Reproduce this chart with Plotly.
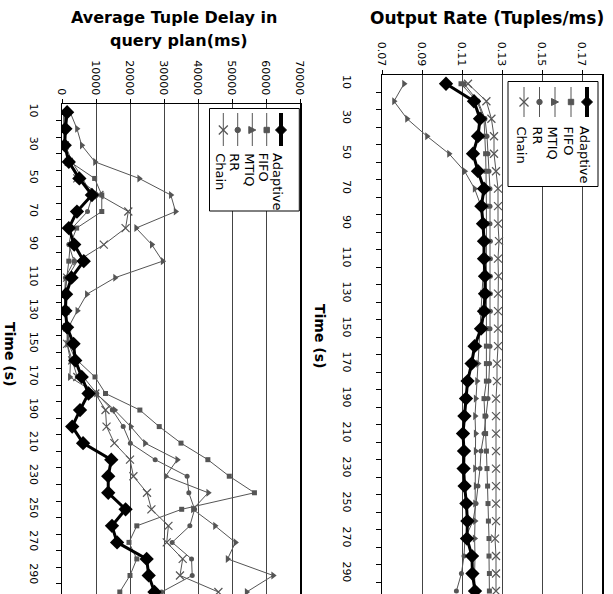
import plotly.graph_objects as go

# ---------------- data ----------------
time_s = [10, 20, 30, 40, 50, 60, 70, 80, 90, 100, 110, 120, 130, 140, 150,
          160, 170, 180, 190, 200, 210, 220, 230, 240, 250, 260, 270, 280, 290, 300]
time_tick_labels = [10, 30, 50, 70, 90, 110, 130, 150, 170, 190, 210, 230, 250, 270, 290]
series_names = ["Adaptive", "FIFO", "MTIQ", "RR", "Chain"]

# Output rate (tuples/ms)
rate_adaptive = [0.102, 0.116, 0.119, 0.118, 0.1155, 0.118, 0.121, 0.1197, 0.1205, 0.121,
                 0.121, 0.1215, 0.1215, 0.121, 0.1195, 0.1163, 0.1148, 0.1128, 0.112, 0.1112,
                 0.1105, 0.111, 0.1108, 0.1113, 0.1122, 0.1127, 0.1125, 0.115, 0.1152, 0.1165]
rate_fifo = [0.1095, 0.1175, 0.121, 0.1215, 0.1218, 0.122, 0.1222, 0.1222, 0.1222, 0.1222,
             0.1222, 0.1222, 0.1222, 0.1222, 0.1222, 0.1222, 0.1222, 0.1222, 0.121, 0.1215,
             0.1218, 0.1222, 0.1225, 0.1228, 0.123, 0.1232, 0.1235, 0.1235, 0.1237, 0.1237]
rate_mtiq = [0.081, 0.076, 0.0825, 0.0925, 0.1035, 0.1113, 0.1163, 0.1195, 0.121, 0.1215,
             0.121, 0.1205, 0.12, 0.1195, 0.119, 0.1185, 0.118, 0.1175, 0.1168, 0.1165,
             0.1168, 0.1168, 0.1165, 0.1168, 0.1165, 0.1165, 0.1163, 0.1165, 0.1163, 0.1165]
rate_rr = [0.111, 0.118, 0.1215, 0.1225, 0.123, 0.1235, 0.124, 0.124, 0.124, 0.1242,
           0.1242, 0.1242, 0.1242, 0.1242, 0.124, 0.124, 0.1238, 0.1235, 0.123, 0.122,
           0.121, 0.1195, 0.119, 0.118, 0.117, 0.1155, 0.1115, 0.111, 0.1097, 0.1072]
rate_chain = [0.113, 0.1222, 0.1247, 0.126, 0.126, 0.127, 0.128, 0.128, 0.128, 0.1285,
              0.128, 0.1282, 0.128, 0.128, 0.128, 0.128, 0.1275, 0.1275, 0.127, 0.127,
              0.127, 0.127, 0.127, 0.127, 0.127, 0.127, 0.1265, 0.127, 0.127, 0.127]

# Average tuple delay in query plan (ms)
delay_adaptive = [1500, 1000, 800, 2000, 5100, 8800, 4400, 2000, 3600, 6400,
                  2800, 1200, 1000, 1500, 3400, 3900, 5800, 7800, 5300, 3000,
                  6200, 14500, 13600, 13600, 18700, 14700, 16200, 24900, 25500, 27200]
delay_fifo = [800, 700, 700, 2400, 9600, 11700, 11700, 4300, 2400, 2000,
              1500, 800, 1200, 1000, 2500, 4500, 9700, 12800, 22900, 28600,
              35000, 42900, 49200, 56600, 35200, 22000, 19700, 22000, 20000, 17000]
delay_mtiq = [2400, 4400, 5800, 9700, 22700, 32000, 33400, 21800, 26400, 29600,
              15600, 7300, 4500, 1900, 1500, 2500, 2300, 10000, 15500, 20200,
              24400, 33900, 30500, 43000, 38500, 45000, 51000, 48700, 62100, 54300]
delay_rr = [600, 800, 1000, 3000, 6000, 9000, 7500, 3000, 2000, 3500,
            1000, 800, 1000, 1500, 2000, 4000, 6300, 10200, 14800, 18000,
            20100, 27400, 36800, 37300, 39000, 37600, 32400, 38100, 38300, 29300]
delay_chain = [500, 500, 800, 2000, 4500, 11000, 19500, 18700, 12300, 4500,
               1500, 800, 1000, 1500, 1500, 3000, 4500, 9800, 12800, 13100,
               15400, 20000, 21000, 25000, 26300, 31300, 30800, 35500, 34700, 46000]

# ---------------- styles ----------------
W, H = 613, 594
GRAY = "#555555"
FONT = "DejaVu Sans"
styles = {
    "Adaptive": dict(color="black", width=3, symbol="diamond", size=11),
    "FIFO": dict(color=GRAY, width=1, symbol="square", size=5),
    "MTIQ": dict(color=GRAY, width=1, symbol="triangle-right", size=7),
    "RR": dict(color=GRAY, width=1, symbol="circle", size=5),
    "Chain": dict(color=GRAY, width=1, symbol="x-thin-open", size=8),
}


def pxx(x):
    return x / W


def pxy(y):
    return 1 - y / H


fig = go.Figure()

rate_series = [rate_adaptive, rate_fifo, rate_mtiq, rate_rr, rate_chain]
delay_series = [delay_adaptive, delay_fifo, delay_mtiq, delay_rr, delay_chain]

# draw gray series first, Adaptive last (on top)
order = [4, 3, 2, 1, 0]
for i in order:
    name = series_names[i]
    st = styles[name]
    mk = dict(symbol=st["symbol"], size=st["size"], color=st["color"])
    if st["symbol"] == "x-thin-open":
        mk["line"] = dict(color=st["color"], width=1.2)
    fig.add_trace(go.Scatter(x=delay_series[i], y=time_s, mode="lines+markers",
                             name=name, line=dict(color=st["color"], width=st["width"]),
                             marker=mk, xaxis="x", yaxis="y", showlegend=False,
                             cliponaxis=True))
    fig.add_trace(go.Scatter(x=rate_series[i], y=time_s, mode="lines+markers",
                             name=name, line=dict(color=st["color"], width=st["width"]),
                             marker=mk, xaxis="x2", yaxis="y2", showlegend=False,
                             cliponaxis=True))

tickfont = dict(family=FONT, size=11, color="black")
minor_vals = [t + 5 for t in time_s]


def time_axis(domain_top, rng, anchor, standoff):
    return dict(domain=[0, domain_top], range=rng, anchor=anchor,
                tickmode="array", tickvals=time_tick_labels,
                ticktext=[str(v) for v in time_tick_labels],
                tickangle=90, ticks="", tickfont=tickfont,
                ticklabelstandoff=standoff,
                showline=True, linecolor="black", linewidth=1.5, mirror=True,
                showgrid=False, zeroline=False,
                minor=dict(tickmode="array", tickvals=minor_vals, ticks="outside",
                           ticklen=5, tickcolor="black", tickwidth=1, showgrid=False))


def value_axis(domain, rng, dtick, anchor, fmt):
    return dict(domain=domain, range=rng, anchor=anchor, side="top",
                tick0=rng[0], dtick=dtick, tickformat=fmt,
                tickangle=90, ticks="outside", ticklen=4, tickcolor="black",
                tickfont=tickfont, showline=True, linecolor="black", linewidth=1,
                mirror=True, showgrid=True, gridcolor="#444444", gridwidth=1,
                zeroline=False)


fig.update_layout(
    width=W, height=H,
    margin=dict(l=0, r=0, t=0, b=0, autoexpand=False),
    paper_bgcolor="white", plot_bgcolor="white",
    showlegend=False,
    xaxis=value_axis([pxx(62), pxx(300)], [0, 70000], 10000, "y", "d"),
    yaxis=time_axis(pxy(104), [301.2, 5], "x", 17),
    xaxis2=value_axis([pxx(382), pxx(602)], [0.07, 0.18], 0.02, "y2", ".2f"),
    yaxis2=time_axis(pxy(75), [301.7, 5], "x2", 24),
)

annotations = []
shapes = []


def ann(text, x, y, size, angle=0, xanchor="center", yanchor="middle"):
    annotations.append(dict(text=text, x=pxx(x), y=pxy(y), xref="paper", yref="paper",
                            showarrow=False, textangle=angle, xanchor=xanchor,
                            yanchor=yanchor,
                            font=dict(family=FONT, size=size, color="black")))


# titles
ann("<b>Output Rate (Tuples/ms)</b>", 487, 18, 17)
ann("<b>Average Tuple Delay in</b>", 174, 18, 16)
ann("<b>query plan(ms)</b>", 179, 41, 16)
# time axis titles (rotated)
ann("<b>Time (s)</b>", 320, 336, 14, angle=90)
ann("<b>Time (s)</b>", 10, 354, 14, angle=90)


def add_legend(box, xs, line_y, mark_y, text_top):
    x0, x1, y0, y1 = box
    shapes.append(dict(type="rect", xref="paper", yref="paper",
                       x0=pxx(x0), x1=pxx(x1), y0=pxy(y0), y1=pxy(y1),
                       line=dict(color="black", width=1), fillcolor="white",
                       layer="above"))
    for name, cx in zip(series_names, xs):
        st = styles[name]
        c = st["color"]
        shapes.append(dict(type="line", xref="paper", yref="paper",
                           x0=pxx(cx), x1=pxx(cx), y0=pxy(line_y[0]), y1=pxy(line_y[1]),
                           line=dict(color=c, width=st["width"] + (1 if name == "Adaptive" else 0)),
                           layer="above"))
        sym = st["symbol"]
        if sym == "diamond":
            d = 5.5
            path = "M {a},{b} L {c},{e} L {a},{f} L {g},{e} Z".format(
                a=pxx(cx), b=pxy(mark_y - d), c=pxx(cx + d), e=pxy(mark_y),
                f=pxy(mark_y + d), g=pxx(cx - d))
            shapes.append(dict(type="path", path=path, xref="paper", yref="paper",
                               fillcolor=c, line=dict(color=c, width=1), layer="above"))
        elif sym == "square":
            d = 2.7
            shapes.append(dict(type="rect", xref="paper", yref="paper",
                               x0=pxx(cx - d), x1=pxx(cx + d), y0=pxy(mark_y - d),
                               y1=pxy(mark_y + d), fillcolor=c,
                               line=dict(color=c, width=1), layer="above"))
        elif sym == "triangle-right":
            d = 3.5
            path = "M {a},{b} L {c},{e} L {a},{f} Z".format(
                a=pxx(cx - d), b=pxy(mark_y - d), c=pxx(cx + d), e=pxy(mark_y),
                f=pxy(mark_y + d))
            shapes.append(dict(type="path", path=path, xref="paper", yref="paper",
                               fillcolor=c, line=dict(color=c, width=1), layer="above"))
        elif sym == "circle":
            d = 2.7
            shapes.append(dict(type="circle", xref="paper", yref="paper",
                               x0=pxx(cx - d), x1=pxx(cx + d), y0=pxy(mark_y - d),
                               y1=pxy(mark_y + d), fillcolor=c,
                               line=dict(color=c, width=1), layer="above"))
        else:
            d = 4.5
            for sgn in (1, -1):
                shapes.append(dict(type="line", xref="paper", yref="paper",
                                   x0=pxx(cx - d), x1=pxx(cx + d),
                                   y0=pxy(mark_y - sgn * d), y1=pxy(mark_y + sgn * d),
                                   line=dict(color=c, width=1.2), layer="above"))
        ann(name, cx - 3, text_top, 13, angle=90, yanchor="top")


add_legend((508, 598, 81.5, 186.5), [587, 571, 555, 539.5, 524], (87, 117), 102, 124)
add_legend((209.5, 299.3, 108.5, 211), [281, 266.7, 252.3, 237.7, 223.3], (113, 146), 130, 151)

fig.update_layout(annotations=annotations, shapes=shapes)

fig.write_html("out.html",
               config={"displayModeBar": False, "staticPlot": True},
               post_script="document.body.style.margin='0px';document.body.style.overflow='hidden';")
